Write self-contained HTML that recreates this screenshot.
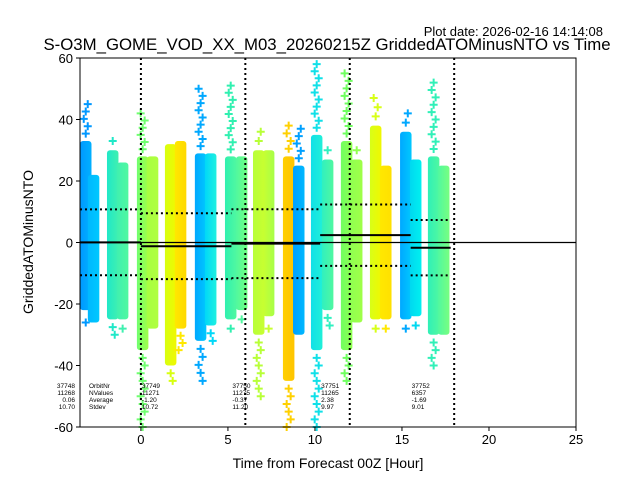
<!DOCTYPE html>
<html><head><meta charset="utf-8"><style>
body{margin:0;background:#fff;}
svg{display:block;font-family:"Liberation Sans","DejaVu Sans",sans-serif;}
</style></head><body>
<svg id="chart" width="640" height="480" viewBox="0 0 640 480">
<rect width="640" height="480" fill="#fff"/>
<text x="603" y="36" font-size="13" text-anchor="end">Plot date: 2026-02-16 14:14:08</text>
<text x="327" y="50" font-size="16.8" text-anchor="middle">S-O3M_GOME_VOD_XX_M03_20260215Z GriddedATOMinusNTO vs Time</text>
<g id="plot"></g>
<text x="328" y="468" font-size="14" text-anchor="middle">Time from Forecast 00Z [Hour]</text>
<text transform="translate(33,242) rotate(-90)" font-size="14" text-anchor="middle">GriddedATOMinusNTO</text>
</svg>
<script>
// column data (hours start, core top/bottom, extreme top/bottom, colors)
const colStart=[-3.5,-3.05,-1.95,-1.38,-0.23,0.34,1.38,1.95,3.1,3.68,4.83,5.46,6.44,7.01,8.16,8.74,9.77,10.4,11.49,12.07,13.16,13.74,14.89,15.46,16.49,17.07];
const coreTop=[33,22,30,26,28,28,32,33,29,29,28,28,30,30,28,25,35,27,33,27,38,25,36,27,28,25];
const coreBot=[-22,-26,-25,-25,-35,-28,-40,-28,-32,-27,-25,-22,-30,-24,-45,-30,-35,-22,-35,-26,-25,-25,-25,-24,-30,-30];
const extTop=[45,22,33,28,42,29,33,35,50,30,51,29,36,31,38,37,58,30,55,30,47,25,42,29,52,25];
const extBot=[-26,-26,-30,-28,-60,-30,-45,-35,-45,-32,-28,-25,-50,-28,-60,-32,-60,-27,-45,-28,-28,-28,-28,-27,-40,-30];
const colLeft=["#0098ff","#00b8ff","#20e8c8","#40f0b0","#70ff70","#a8ff40","#d8ff10","#ffe800","#00a8ff","#00d8f8","#30f0b0","#50f8a0","#b8ff38","#c8ff30","#ffd000","#00a0ff","#10e0e8","#30f0c0","#70ff60","#90ff50","#d8ff18","#ffe800","#00a8ff","#00d8f0","#30f0b8","#50f8a0"];
const colRight=["#00b0ff","#00c8ff","#40f0b0","#50f8a0","#a0ff48","#b0ff40","#f0f800","#ffd800","#00c8ff","#20f0e0","#50f8a0","#70ff80","#c8ff30","#a8ff48","#ffc400","#00b8ff","#20f0d8","#50f8a0","#90ff50","#a0ff48","#f0f800","#ffe000","#00c8ff","#00f0f0","#50f8a0","#78ff80"];
// segment stats
const segStart=[-3.5,0,5.2,10.3,15.5];
const segEnd=[0,5.2,10.3,15.5,17.8];
const segMean=[0.06,-1.20,-0.37,2.38,-1.69];
const segStd=[10.70,10.72,11.20,9.97,9.01];
const segOrbit=["37748","37749","37750","37751","37752"];
const segN=["11268","11271","11275","11265","6357"];
const vlines=[0,6,12,18];
const xTicks=[0,5,10,15,20,25];
const yTicks=[-60,-40,-20,0,20,40,60];

const L=80,R=576,T=58,B=427;
const xs=v=>L+(v+3.5)/(25+3.5)*(R-L);
const ys=v=>T+(60-v)/120*(B-T);
const NS="http://www.w3.org/2000/svg";
const g=document.getElementById('plot');
const defs=document.createElementNS(NS,'defs');g.appendChild(defs);
function mk(t,a,p){const e=document.createElementNS(NS,t);for(const k in a)e.setAttribute(k,a[k]);(p||g).appendChild(e);return e;}
const cw=0.66;
colStart.forEach((s,i)=>{
  const gr=mk('linearGradient',{id:'cg'+i,x1:0,x2:1,y1:0,y2:0},defs);
  mk('stop',{offset:0,'stop-color':colLeft[i]},gr);mk('stop',{offset:1,'stop-color':colRight[i]},gr);
  const x0=xs(s),x1=xs(s+cw);
  const r=mk('rect',{x:x0,y:ys(coreTop[i]),width:x1-x0,height:ys(coreBot[i])-ys(coreTop[i]),fill:'url(#cg'+i+')',rx:3});
  
  
  const cx=(x0+x1)/2;
  const tails=[[coreTop[i],extTop[i]],[coreBot[i],extBot[i]]];
  tails.forEach(([a,b])=>{
    const ya=ys(a),yb=ys(b);const n=Math.floor(Math.abs(yb-ya)/7);
    for(let k=1;k<=n;k++){const y=ya+(yb-ya)*k/n;const ox=(k%3-1)*2;
      const p=mk('path',{d:`M${cx+ox-4} ${y}H${cx+ox+4}M${cx+ox} ${y-4}V${y+4}`,stroke:colLeft[i],'stroke-width':2});
      
      }
  });
});
// zero line
const z=mk('line',{x1:L,x2:R,y1:ys(0),y2:ys(0),stroke:'#000','stroke-width':1.2});


vlines.forEach(v=>{const l=mk('line',{x1:xs(v),x2:xs(v),y1:T,y2:B,stroke:'#000','stroke-width':2,'stroke-dasharray':'2,3'});
  
  });
segStart.forEach((s,i)=>{
  const x0=xs(s),x1=xs(segEnd[i]);
  const m=mk('line',{x1:x0,x2:x1,y1:ys(segMean[i]),y2:ys(segMean[i]),stroke:'#000','stroke-width':2});
  
  
  [1,-1].forEach(sg=>{const y=ys(segMean[i]+sg*segStd[i]);
    const d=mk('line',{x1:x0,x2:x1,y1:y,y2:y,stroke:'#000','stroke-width':2,'stroke-dasharray':'2,3'});
    
    });
  const vals=[segOrbit[i],segN[i],segMean[i].toFixed(2),segStd[i].toFixed(2)];
  vals.forEach((v,k)=>{const t=mk('text',{x:i==0?x0-5:x0+1,y:388+k*7,'font-size':6.5,'text-anchor':i==0?'end':'start'});
    t.textContent=v;
    
    });
});
["OrbitNr","NValues","Average","Stdev"].forEach((v,k)=>{const t=mk('text',{x:89,y:388+k*7,'font-size':6.5});t.textContent=v;
  
  });
const fr=mk('rect',{x:L,y:T,width:R-L,height:B-T,fill:'none',stroke:'#000','stroke-width':1});


xTicks.forEach(v=>{const x=xs(v);mk('line',{x1:x,x2:x,y1:B,y2:B+4,stroke:'#000'});
  const t=mk('text',{x:x,y:B+17,'font-size':13,'text-anchor':'middle'});t.textContent=v;
  
  });
yTicks.forEach(v=>{const y=ys(v);mk('line',{x1:L-4,x2:L,y1:y,y2:y,stroke:'#000'});
  const t=mk('text',{x:L-7,y:y+5,'font-size':13,'text-anchor':'end'});t.textContent=v;
  
  });
</script>
</body></html>
